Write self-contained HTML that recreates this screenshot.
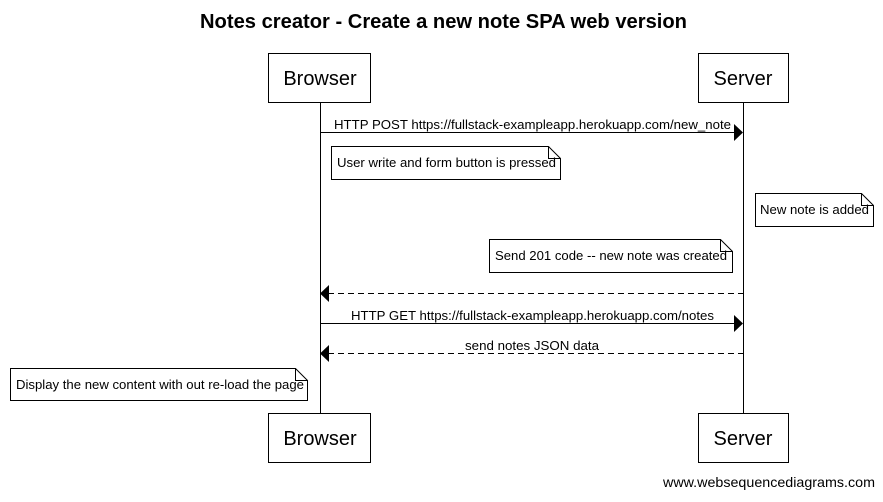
<!DOCTYPE html>
<html><head><meta charset="utf-8"><style>
body{margin:0;background:#fff}
text{font-family:"Liberation Sans",Arial,sans-serif;fill:#000}
</style></head><body>
<svg width="883" height="497" viewBox="0 0 883 497" xmlns="http://www.w3.org/2000/svg">
<text x="200" y="28" font-size="20" font-weight="bold" textLength="487" lengthAdjust="spacingAndGlyphs">Notes creator - Create a new note SPA web version</text>
<g stroke="#000" stroke-width="1" fill="#fff">
<line x1="320.5" y1="102" x2="320.5" y2="413"/>
<line x1="743.5" y1="102" x2="743.5" y2="413"/>
<rect x="268.5" y="53.5" width="102" height="49"/>
<rect x="698.5" y="53.5" width="90" height="49"/>
<rect x="268.5" y="413.5" width="102" height="49"/>
<rect x="698.5" y="413.5" width="90" height="49"/>
</g>
<g font-size="20" text-anchor="middle">
<text x="320" y="85">Browser</text><text x="743" y="85">Server</text>
<text x="320" y="445">Browser</text><text x="743" y="445">Server</text>
</g>
<g stroke="#000" fill="none">
<line x1="320" y1="132.5" x2="735" y2="132.5"/>
<line x1="328" y1="293.5" x2="743" y2="293.5" stroke-dasharray="6,4"/>
<line x1="320" y1="323.5" x2="735" y2="323.5"/>
<line x1="328" y1="353.5" x2="743" y2="353.5" stroke-dasharray="6,4"/>
</g>
<g fill="#000">
<polygon points="743,132.5 734,124 734,141"/>
<polygon points="320,293.5 329,285 329,302"/>
<polygon points="743,323.5 734,315 734,332"/>
<polygon points="320,353.5 329,345 329,362"/>
</g>
<g font-size="13">
<text x="334" y="129" textLength="397" lengthAdjust="spacingAndGlyphs">HTTP POST https://fullstack-exampleapp.herokuapp.com/new_note</text>
<text x="351" y="320" textLength="363" lengthAdjust="spacingAndGlyphs">HTTP GET https://fullstack-exampleapp.herokuapp.com/notes</text>
<text x="465" y="350" textLength="134" lengthAdjust="spacingAndGlyphs">send notes JSON data</text>
</g>
<g stroke="#000" fill="#fff">
<path d="M331.5 146.5 H548.5 L560.5 158.5 V179.5 H331.5 Z"/><path d="M548.5 146.5 V158.5 H560.5" fill="none"/>
<path d="M755.5 193.5 H861.5 L873.5 205.5 V226.5 H755.5 Z"/><path d="M861.5 193.5 V205.5 H873.5" fill="none"/>
<path d="M489.5 239.5 H720.5 L732.5 251.5 V272.5 H489.5 Z"/><path d="M720.5 239.5 V251.5 H732.5" fill="none"/>
<path d="M10.5 368.5 H295.5 L307.5 380.5 V400.5 H10.5 Z"/><path d="M295.5 368.5 V380.5 H307.5" fill="none"/>
</g>
<g font-size="13">
<text x="337" y="167" textLength="219" lengthAdjust="spacingAndGlyphs">User write and form button is pressed</text>
<text x="760" y="214" textLength="109" lengthAdjust="spacingAndGlyphs">New note is added</text>
<text x="495" y="260" textLength="232" lengthAdjust="spacingAndGlyphs">Send 201 code -- new note was created</text>
<text x="16" y="389" textLength="288" lengthAdjust="spacingAndGlyphs">Display the new content with out re-load the page</text>
</g>
<text x="663" y="487" font-size="14" textLength="212" lengthAdjust="spacingAndGlyphs">www.websequencediagrams.com</text>
</svg>
</body></html>
